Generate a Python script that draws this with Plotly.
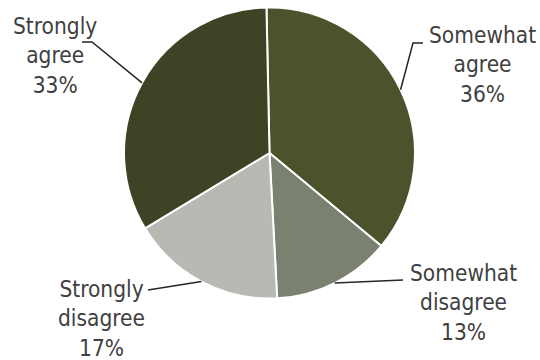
import math
import plotly.graph_objects as go

# Survey responses, clockwise from 12 o'clock
labels = ["Somewhat agree", "Somewhat disagree", "Strongly disagree", "Strongly agree"]
label_lines = [["Somewhat", "agree"], ["Somewhat", "disagree"], ["Strongly", "disagree"], ["Strongly", "agree"]]
values = [36, 13, 17, 33]
colors = ["#4b532c", "#7b8170", "#b7b9b2", "#3d4324"]

W, H = 540, 360
CX, CY, R = 269.5, 153.0, 145.5  # pie centre / radius in pixels
ROTATION = -1.2                   # start angle offset, degrees

# Callout layout: elbow points of the leader lines and text-block centres (pixels)
knees = [[(413, 43), (423, 43)], [(403, 280)], [(148, 290)], [(92, 42), (82, 42)]]
text_pos = [(482, 64), (463, 302), (101, 318), (55, 55)]

fig = go.Figure(go.Pie(
    labels=labels,
    values=values,
    sort=False,
    direction="clockwise",
    rotation=ROTATION,
    marker=dict(colors=colors, line=dict(color="white", width=2)),
    textinfo="none",
    hoverinfo="label+percent",
    showlegend=False,
    domain=dict(x=[(CX - R) / W, (CX + R) / W], y=[(H - CY - R) / H, (H - CY + R) / H]),
))

def px(x, y):
    return x / W, 1 - y / H

total = sum(values)
cum = 0
shapes, annotations = [], []
for i, v in enumerate(values):
    mid = (cum + v / 2) / total * 2 * math.pi + math.radians(ROTATION)
    cum += v
    ex, ey = CX + R * math.sin(mid), CY - R * math.cos(mid)
    pts = [(ex, ey)] + knees[i]
    path = "M " + " L ".join("{:.4f},{:.4f}".format(*px(x, y)) for x, y in pts)
    shapes.append(dict(type="path", xref="paper", yref="paper", path=path,
                       line=dict(color="#262626", width=1.5)))
    tx, ty = px(*text_pos[i])
    annotations.append(dict(
        x=tx, y=ty, xref="paper", yref="paper", xanchor="center", yanchor="middle",
        text="<br>".join(label_lines[i] + [f"{v}%"]), showarrow=False, align="center",
        font=dict(family="DejaVu Sans Condensed, DejaVu Sans", size=22.5, color="#404040"),
    ))

fig.update_layout(
    width=W, height=H,
    margin=dict(l=0, r=0, t=0, b=0),
    paper_bgcolor="white", plot_bgcolor="white",
    shapes=shapes, annotations=annotations,
)

fig.write_html("out.html")
